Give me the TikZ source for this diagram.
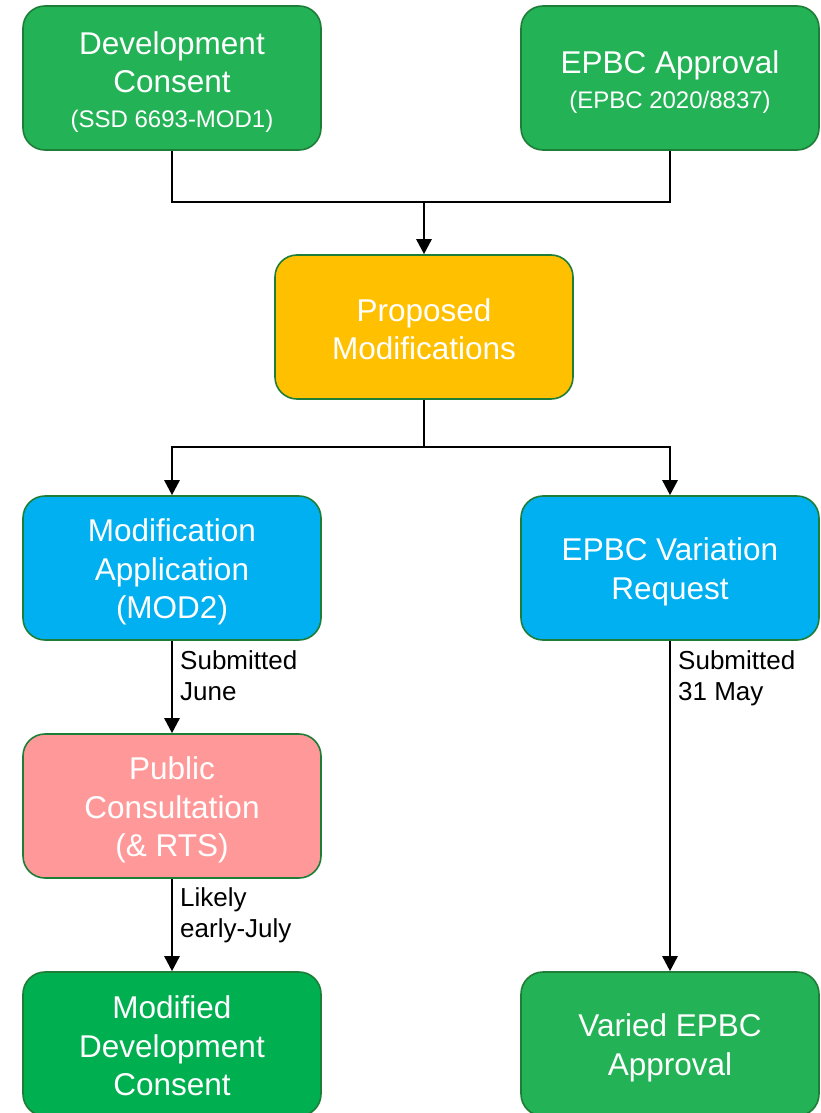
\documentclass[tikz,border=0pt]{standalone}
\usepackage{fontspec}
\setmainfont{Liberation Sans}
\usetikzlibrary{arrows.meta}
\definecolor{gA}{RGB}{35,179,86}
\definecolor{gB}{RGB}{0,176,80}
\definecolor{bA}{RGB}{0,176,240}
\definecolor{yA}{RGB}{255,192,0}
\definecolor{pA}{RGB}{255,153,153}
\definecolor{bord}{RGB}{30,125,55}
\begin{document}
\begin{tikzpicture}[x=1pt,y=-1pt,
  box/.style={draw=bord,line width=1.6pt,rounded corners=22pt,minimum width=298pt,minimum height=144pt,inner sep=0pt},
  txt/.style={align=center,text=white,inner sep=0pt,yshift=-4pt,font=\fontsize{31.5}{38.5}\selectfont},
  conn/.style={line width=2.6pt,black},
  arr/.style={conn,-{Triangle[length=15pt,width=15pt]}},
  lbl/.style={align=left,anchor=north west,inner sep=0pt,font=\fontsize{26}{31}\selectfont}]
\useasboundingbox (0,0) rectangle (820,1113);
\node[box,fill=gA] (dc) at (172,78) {};
\node[txt] (dct) at (dc) {Development\\Consent\\[-4pt]{\fontsize{24}{28}\selectfont (SSD 6693-MOD1)}};
\node[box,fill=gA] (ea) at (670,78) {};
\node[txt] (eat) at (ea) {EPBC Approval\\[-4pt]{\fontsize{24}{28}\selectfont (EPBC 2020/8837)}};
\node[box,fill=yA] (pm) at (424,327) {};
\node[txt,yshift=2pt] (pmt) at (pm) {Proposed\\Modifications};
\node[box,fill=bA] (ma) at (172,568) {};
\node[txt] (mat) at (ma) {Modification\\Application\\(MOD2)};
\node[box,fill=bA] (ev) at (670,568) {};
\node[txt] (evt) at (ev) {EPBC Variation\\Request};
\node[box,fill=pA] (pc) at (172,806) {};
\node[txt] (pct) at (pc) {Public\\Consultation\\(\& RTS)};
\node[box,fill=gB] (md) at (172,1044) {};
\node[txt,yshift=2pt] (mdt) at (md) {Modified\\Development\\Consent};
\node[box,fill=gA] (ve) at (670,1044) {};
\node[txt] (vet) at (ve) {Varied EPBC\\Approval};
\coordinate (j1) at (424,202);
\coordinate (j2) at (424,447);
\draw[conn] (dc.south) |- (j1) -| (ea.south);
\draw[arr] (j1) -- (pm.north);
\draw[conn] (pm.south) -- (j2);
\draw[arr] (j2) -| (ma.north);
\draw[arr] (j2) -| (ev.north);
\draw[arr] (ma.south) -- (pc.north);
\draw[arr] (pc.south) -- (md.north);
\draw[arr] (ev.south) -- (ve.north);
\node[lbl] (l1) at (180,650) {Submitted\\June};
\node[lbl] (l2) at (180,887) {Likely\\early-July};
\node[lbl] (l3) at (678,650) {Submitted\\31 May};
\end{tikzpicture}
\end{document}
